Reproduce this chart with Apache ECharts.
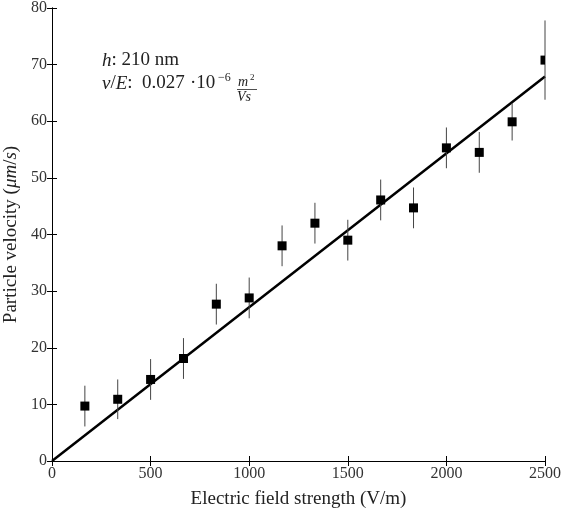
<!DOCTYPE html>
<html>
<head>
<meta charset="utf-8">
<script src="https://cdn.jsdelivr.net/npm/echarts@6/dist/echarts.min.js"></script>
<style>
    html, body { margin: 0; padding: 0; background: #fff; }
    #main { width: 561px; height: 518px; }
</style>
</head>
<body>
<div id="main"></div>
<script type="text/javascript">
    var fieldStrength = [166.7, 333.3, 500, 666.7, 833.3, 1000, 1166.7, 1333.3, 1500, 1666.7, 1833.3, 2000, 2166.7, 2333.3, 2500];
    var velocity = [9.7, 10.9, 14.4, 18.1, 27.7, 28.8, 38.0, 42.0, 39.0, 46.1, 44.7, 55.3, 54.5, 59.9, 70.8];
    var velocityErr = [3.6, 3.5, 3.6, 3.6, 3.6, 3.6, 3.6, 3.6, 3.6, 3.6, 3.6, 3.6, 3.6, 3.3, 7.0];
    // linear fit through origin
    var fitX = [0, 2500];
    var fitY = [0, 67.9];

    var serif = '"Liberation Serif", "DejaVu Serif", serif';
    var points = fieldStrength.map(function(x, i){ return [x, velocity[i], velocityErr[i]]; });
    var fit = fitX.map(function(x, i){ return [x, fitY[i]]; });

    function renderPoint(params, api){
        var x = api.value(0), y = api.value(1), e = api.value(2);
        var top = api.coord([x, y + e]);
        var bot = api.coord([x, y - e]);
        var c = api.coord([x, y]);
        var cs = params.coordSys;
        // clip the marker to the plot area, like the original
        var x0 = Math.max(c[0] - 4.5, cs.x), x1 = Math.min(c[0] + 4.5, cs.x + cs.width);
        var y0 = Math.max(c[1] - 4.5, cs.y), y1 = Math.min(c[1] + 4.5, cs.y + cs.height);
        return {
            type: 'group',
            children: [
                {type: 'line', shape: {x1: top[0], y1: Math.max(top[1], cs.y), x2: bot[0], y2: bot[1]},
                 style: {stroke: '#444', lineWidth: 1}},
                {type: 'rect', shape: {x: x0, y: y0, width: x1 - x0, height: y1 - y0},
                 style: {fill: '#000'}}
            ]
        };
    }

    function axisBase(extra){
        var a = {
            type: 'value',
            axisLine: {show: true, lineStyle: {color: '#000', width: 1}},
            axisTick: {show: true, inside: true, length: 5, lineStyle: {color: '#000'}},
            splitLine: {show: false},
            axisLabel: {color: '#333', fontFamily: serif, fontSize: 16, margin: 5,
                        formatter: function(v){ return String(v); }}
        };
        for (var k in extra) a[k] = extra[k];
        return a;
    }

    function txt(x, y, s, size){
        return {type: 'text', left: x, top: y,
                style: {text: s, font: size + 'px ' + serif, fill: '#222',
                        rich: {i: {fontStyle: 'italic', fontSize: size, fontFamily: serif, fill: '#222'}}}};
    }

    var myChart = echarts.init(document.getElementById('main'));
    var myOption = {
        animation: false,
        grid: {left: 52, right: 16, top: 8, bottom: 57, outerBoundsMode: 'none', containLabel: false},
        xAxis: [
            axisBase({
                min: 0, max: 2500, interval: 500, position: 'bottom',
                name: 'Electric field strength (V/m)',
                nameLocation: 'middle', nameGap: 29,
                nameTextStyle: {color: '#222', fontFamily: serif, fontSize: 19}
            }),
            axisBase({
                min: 0, max: 2500, interval: 500, position: 'top',
                axisLabel: {show: false}
            })
        ],
        yAxis: [
            axisBase({
                min: 0, max: 80, interval: 10, position: 'left',
                name: 'Particle velocity ({it|μm}/{it|s})',
                nameLocation: 'middle', nameGap: 26,
                nameTextStyle: {
                    color: '#222', fontFamily: serif, fontSize: 19,
                    rich: {it: {fontStyle: 'italic', fontFamily: serif, fontSize: 19, color: '#222'}}
                }
            }),
            axisBase({
                min: 0, max: 80, interval: 10, position: 'right',
                axisLabel: {show: false}
            })
        ],
        graphic: [
            txt(102, 51, '{i|h}: 210 nm', 19),
            txt(102, 74, '{i|v}/{i|E}:', 19),
            txt(142, 74, '0.027', 19),
            txt(190, 74, '·10', 19),
            txt(218, 72, '−6', 12),
            txt(238, 75, '{i|m}', 14),
            txt(250, 73, '2', 9),
            {type: 'line', shape: {x1: 237, y1: 89.5, x2: 257, y2: 89.5},
             style: {stroke: '#222', lineWidth: 0.8}},
            txt(237, 90, '{i|Vs}', 14)
        ],
        series: [
            {
                type: 'line', data: fit, symbol: 'none', z: 2,
                lineStyle: {color: '#000', width: 2.5}
            },
            {
                type: 'custom', data: points, renderItem: renderPoint, z: 3
            }
        ]
    };
    myChart.setOption(myOption);
</script>
</body>
</html>
